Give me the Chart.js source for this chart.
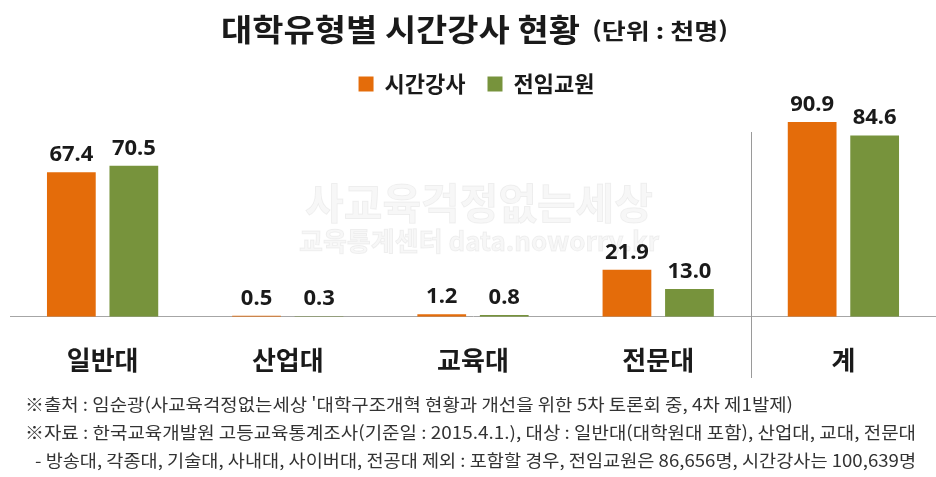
<!DOCTYPE html>
<html lang="ko">
<head>
<meta charset="utf-8">
<script src="https://cdn.jsdelivr.net/npm/chart.js@4.4.1/dist/chart.umd.min.js"></script>
<style>
  html, body { margin: 0; padding: 0; background: #fff; overflow: hidden; }
</style>
</head>
<body>
<canvas id="lecturerChart" width="936" height="477"></canvas>
<script>
/* 대학유형별 시간강사 현황 */

const categories = ['일반대', '산업대', '교육대', '전문대', '계'];
const seriesNames = ['시간강사', '전임교원'];
const lecturers = [67.4, 0.5, 1.2, 21.9, 90.9];
const fullTime = [70.5, 0.3, 0.8, 13.0, 84.6];

const titleMain = '대학유형별 시간강사 현황';
const titleUnit = '(단위 : 천명)';
const notes = [
  '※출처 : 임순광(사교육걱정없는세상 \'대학구조개혁 현황과 개선을 위한 5차 토론회 중, 4차 제1발제)',
  '※자료 : 한국교육개발원 고등교육통계조사(기준일 : 2015.4.1.), 대상 : 일반대(대학원대 포함), 산업대, 교대, 전문대',
  '- 방송대, 각종대, 기술대, 사내대, 사이버대, 전공대 제외 : 포함할 경우, 전임교원은 86,656명, 시간강사는 100,639명'
];
const watermark = ['사교육걱정없는세상', '교육통계센터 data.noworry.kr'];

const KR = '"Noto Sans CJK KR", "Noto Sans", sans-serif';

// 글자를 주어진 폭에 맞춰 가로로 늘이거나 줄임
function fitText(c, text, x, y, width) {
  const w = c.measureText(text).width;
  c.save();
  c.translate(x, y);
  c.scale(width / w, 1);
  c.fillText(text, 0, 0);
  c.restore();
}

// 제목, 주석, 워터마크, 구분선
const decorations = {
  id: 'decorations',
  beforeDatasetsDraw(chart) {
    const c = chart.ctx;
    c.save();
    c.textAlign = 'center';
    c.textBaseline = 'middle';
    c.fillStyle = 'rgba(0,0,0,0.03)';
    c.strokeStyle = 'rgba(0,0,0,0.06)';
    c.lineWidth = 1;
    c.font = 'bold 42px ' + KR;
    c.fillText(watermark[0], 479, 203, 390);
    c.strokeText(watermark[0], 479, 203, 390);
    c.font = 'bold 26px ' + KR;
    c.fillText(watermark[1], 479, 241, 365);
    c.strokeText(watermark[1], 479, 241, 365);

    // 계 구분선
    const x = chart.scales.x;
    const sx = (x.getPixelForValue(3) + x.getPixelForValue(4)) / 2;
    c.strokeStyle = '#9a9a9a';
    c.lineWidth = 1;
    c.beginPath();
    c.moveTo(Math.round(sx) + 0.5, 132);
    c.lineTo(Math.round(sx) + 0.5, 378);
    c.stroke();
    c.restore();
  },
  afterDatasetsDraw(chart) {
    const c = chart.ctx;
    c.save();
    c.font = 'bold 22px "Noto Sans", sans-serif';
    c.fillStyle = '#1a1a1a';
    c.textAlign = 'center';
    c.textBaseline = 'alphabetic';
    chart.data.datasets.forEach((ds, i) => {
      chart.getDatasetMeta(i).data.forEach((bar, j) => {
        c.fillText(ds.data[j].toFixed(1), bar.x, bar.y - 11);
      });
    });
    c.restore();
  },
  afterDraw(chart) {
    const c = chart.ctx;
    c.save();
    c.fillStyle = '#1a1a1a';
    c.textBaseline = 'middle';
    c.textAlign = 'left';
    c.font = 'bold 31px ' + KR;
    fitText(c, titleMain, 221, 29, 359);
    c.font = 'bold 22px ' + KR;
    fitText(c, titleUnit, 592, 31, 136);

    c.fillStyle = '#333';
    c.font = '17px ' + KR;
    fitText(c, notes[0], 25, 405, 768);
    fitText(c, notes[1], 25, 433, 891);
    fitText(c, notes[2], 35, 461, 881);
    c.restore();
  }
};

const ctx = document.getElementById('lecturerChart').getContext('2d');
const lecturerChart = new Chart(ctx, {
  type: 'bar',
  data: {
    labels: categories,
    datasets: [{
      label: seriesNames[0],
      data: lecturers,
      backgroundColor: '#E46C0A',
      barPercentage: 0.78,
      categoryPercentage: 0.675
    }, {
      label: seriesNames[1],
      data: fullTime,
      backgroundColor: '#77933C',
      barPercentage: 0.78,
      categoryPercentage: 0.675
    }]
  },
  options: {
    responsive: false,
    animation: false,
    layout: {
      padding: { top: 51, left: 10, right: -7, bottom: 73 }
    },
    plugins: {
      legend: {
        display: true,
        position: 'top',
        labels: {
          boxWidth: 15,
          boxHeight: 15,
          padding: 22,
          color: '#1a1a1a',
          font: { family: KR, size: 22, weight: 'bold' }
        }
      },
      title: { display: false },
      tooltip: { enabled: false }
    },
    scales: {
      x: {
        grid: { display: false, drawTicks: false },
        border: { display: true, color: '#a6a6a6', width: 1 },
        ticks: {
          color: '#1a1a1a',
          padding: 28,
          font: { family: KR, size: 26, weight: 'bold' }
        }
      },
      y: {
        display: false,
        min: 0,
        max: 98.8
      }
    }
  },
  plugins: [decorations]
});
</script>
</body>
</html>
